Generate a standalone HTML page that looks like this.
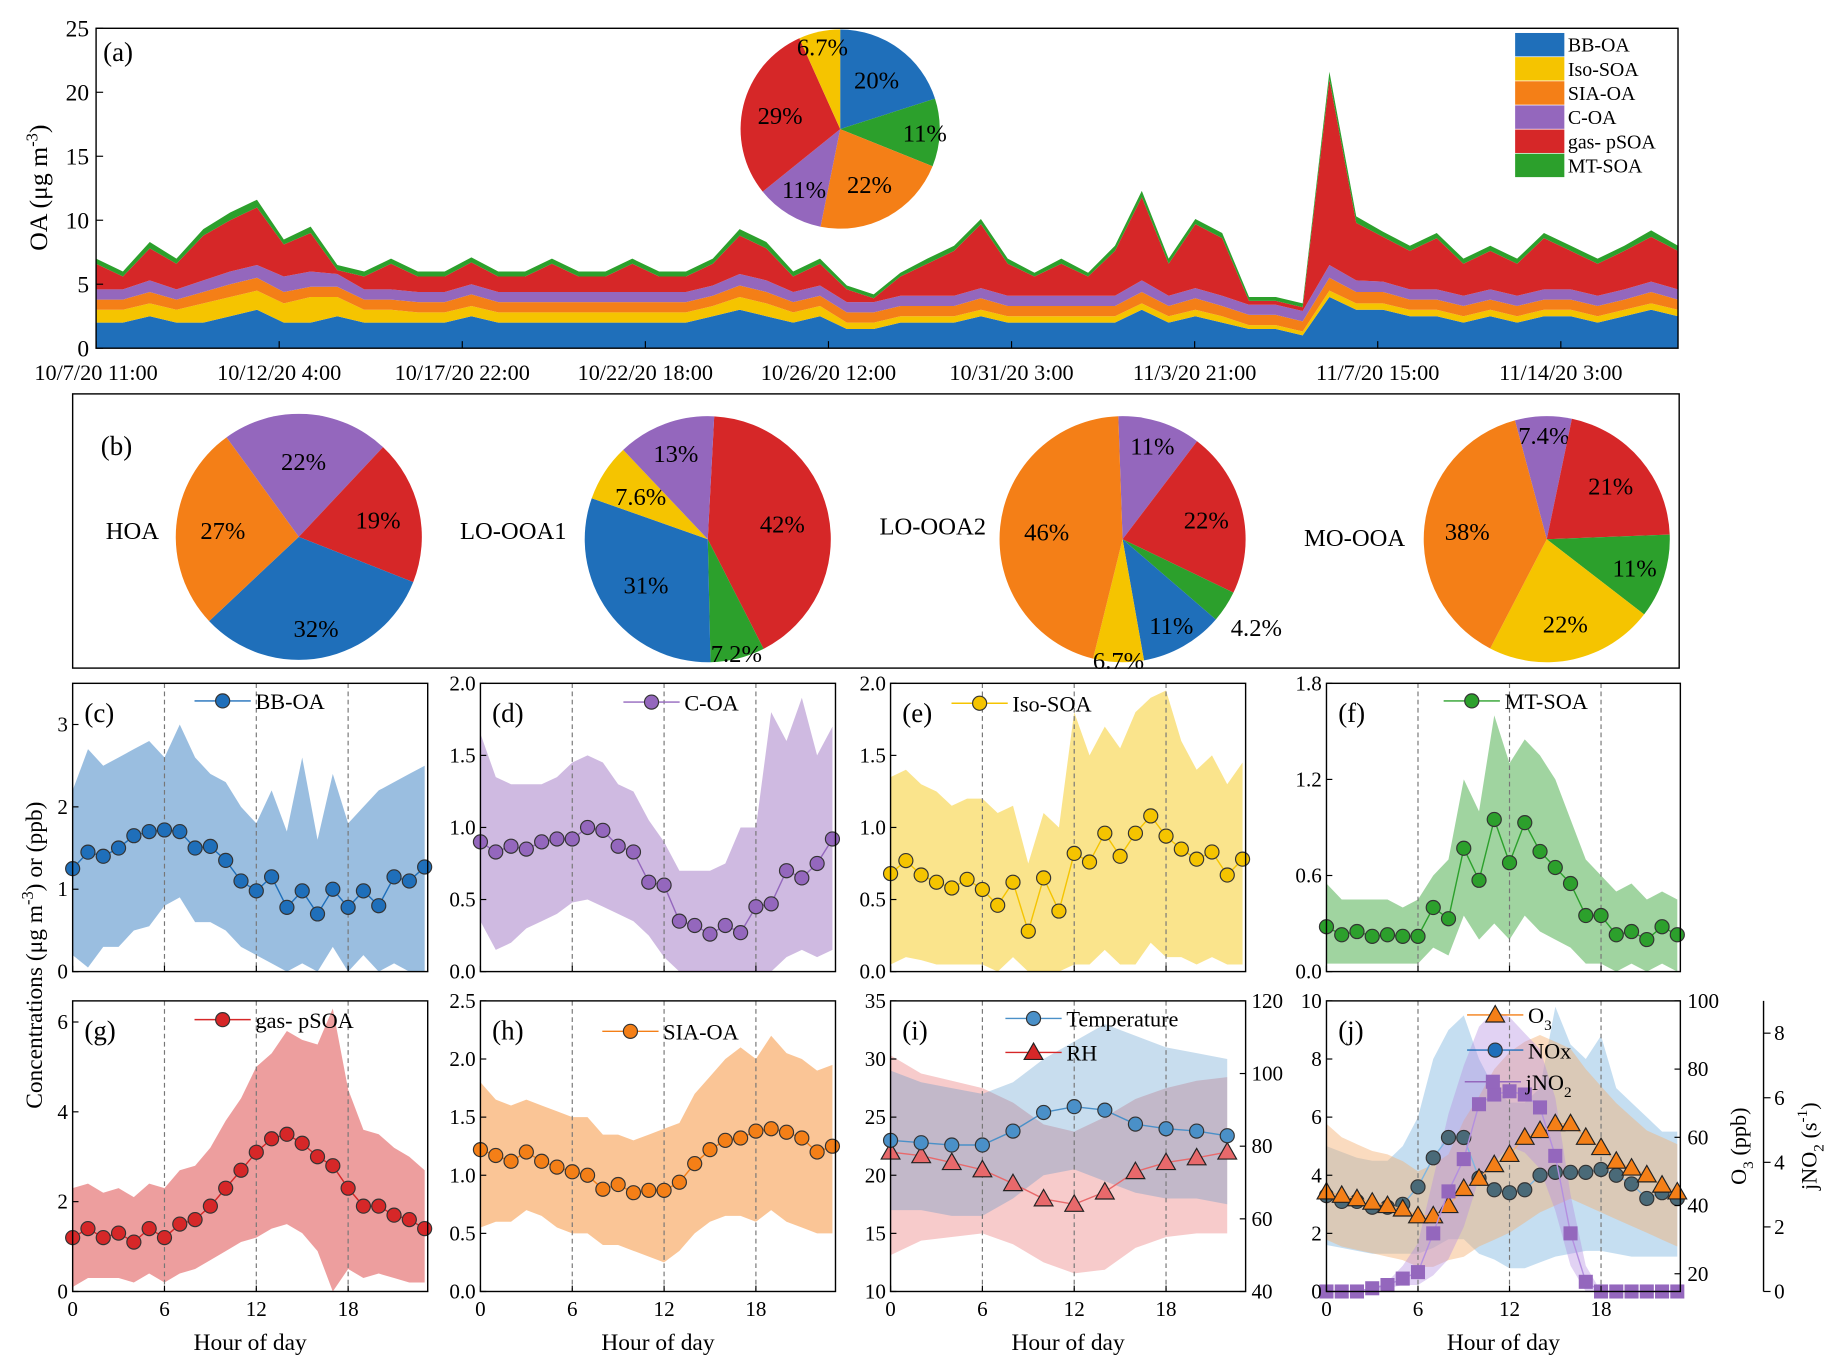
<!DOCTYPE html>
<html><head><meta charset="utf-8">
<style>
html,body{margin:0;padding:0;background:#fff;}
svg{display:block;font-family:"Liberation Serif",serif;}
</style></head>
<body>
<svg id="fig" xmlns="http://www.w3.org/2000/svg" width="1828" height="1369" viewBox="0 0 1560 1168"></svg>
<script>
// ---------- Panel (a) time series data ----------
const tsLabels = ["10/7/20 11:00","10/12/20 4:00","10/17/20 22:00","10/22/20 18:00","10/26/20 12:00","10/31/20 3:00","11/3/20 21:00","11/7/20 15:00","11/14/20 3:00"];
const tsBB  = [2,2,2.5,2,2,2.5,3,2,2,2.5, 2,2,2,2,2.5,2,2,2,2,2, 2,2,2,2.5,3,2.5,2,2.5,1.5,1.5, 2,2,2,2.5,2,2,2,2,2,3, 2,2.5,2,1.5,1.5,1,4,3,3,2.5, 2.5,2,2.5,2,2.5,2.5,2,2.5,3,2.5];
const tsISO = [1,1,1,1,1.5,1.5,1.5,1.5,2,1.5, 1,1,0.8,0.8,0.8,0.8,0.8,0.8,0.8,0.8, 0.8,0.8,0.8,0.8,1,1,0.8,0.8,0.5,0.5, 0.5,0.5,0.5,0.5,0.5,0.5,0.5,0.5,0.5,0.5, 0.5,0.5,0.5,0.3,0.3,0.3,0.5,0.5,0.5,0.5, 0.5,0.5,0.5,0.5,0.5,0.5,0.5,0.5,0.5,0.5];
const tsSIA = [0.8,0.8,0.9,0.8,0.9,1,1,0.9,0.8,0.8, 0.8,0.8,0.8,0.8,0.9,0.8,0.8,0.8,0.8,0.8, 0.8,0.8,0.8,0.8,0.9,0.9,0.8,0.8,0.8,0.8, 0.8,0.8,0.8,0.9,0.8,0.8,0.8,0.8,0.8,0.9, 0.8,0.9,0.8,0.8,0.8,0.8,1,0.9,0.9,0.8, 0.8,0.8,0.8,0.8,0.8,0.8,0.8,0.8,0.9,0.8];
const tsCOA = [0.8,0.8,0.9,0.8,0.9,1,1,1.2,1.2,1, 0.8,0.8,0.8,0.8,0.8,0.8,0.8,0.8,0.8,0.8, 0.8,0.8,0.8,0.8,0.9,0.9,0.8,0.8,0.8,0.8, 0.8,0.8,0.8,0.8,0.8,0.8,0.8,0.8,0.8,0.9, 0.8,0.8,0.8,0.8,0.8,0.8,1,0.9,0.8,0.8, 0.8,0.8,0.8,0.8,0.8,0.8,0.8,0.8,0.8,0.8];
const tsGAS = [2,1,2.5,2,3.5,4,4.5,2.5,3,0.3, 1,2,1.2,1.2,1.7,1.2,1.2,2.2,1.2,1.2, 2.2,1.2,1.2,1.7,3,2.5,1.2,1.7,1,0.3, 1.5,2.5,3.5,5,2.5,1.5,2.5,1.5,3.5,6.5, 2.5,5,4.5,0.3,0.3,0.3,14.5,4.5,3.5,3, 4,2.5,3,2.5,4,3,2.5,3,3.5,3];
const tsMT  = [0.4,0.4,0.5,0.4,0.5,0.6,0.6,0.4,0.5,0.4, 0.4,0.4,0.4,0.4,0.4,0.4,0.4,0.4,0.4,0.4, 0.4,0.4,0.4,0.4,0.5,0.5,0.4,0.4,0.3,0.3, 0.3,0.4,0.4,0.4,0.4,0.3,0.4,0.3,0.4,0.5, 0.4,0.4,0.4,0.3,0.3,0.3,0.6,0.5,0.4,0.4, 0.4,0.4,0.4,0.4,0.4,0.4,0.4,0.4,0.5,0.4];
// ---------- Pies ----------
const pieAVals = [20,11,22,11,29,6.7];
const pieHOA = [22,19,32,27];
const pieLO1 = [42,7.2,31,7.6,13];
const pieLO2 = [11,22,4.2,11,6.7,46];
const pieMO  = [7.4,21,11,22,38];
// ---------- Diurnal ----------
const hours = [0,1,2,3,4,5,6,7,8,9,10,11,12,13,14,15,16,17,18,19,20,21,22,23];
const hours2 = [0,2,4,6,8,10,12,14,16,18,20,22];
const bbMean=[1.25,1.45,1.4,1.5,1.65,1.7,1.72,1.7,1.5,1.52,1.35,1.1,0.98,1.15,0.78,0.98,0.7,1.0,0.78,0.98,0.8,1.15,1.1,1.27];
const bbUp=[2.2,2.7,2.5,2.6,2.7,2.8,2.6,3.0,2.6,2.4,2.3,2.0,1.8,2.2,1.7,2.6,1.6,2.4,1.8,2.0,2.2,2.3,2.4,2.5];
const bbLo=[0.2,0.05,0.3,0.3,0.5,0.55,0.8,0.9,0.6,0.6,0.5,0.3,0.2,0.1,0,0.1,0,0.3,0,0.2,0,0.1,0,0];
const coaMean=[0.9,0.83,0.87,0.85,0.9,0.92,0.92,1.0,0.98,0.87,0.83,0.62,0.6,0.35,0.32,0.26,0.32,0.27,0.45,0.47,0.7,0.65,0.75,0.92];
const coaUp=[1.65,1.35,1.3,1.3,1.3,1.35,1.45,1.5,1.45,1.3,1.25,1.05,0.9,0.7,0.7,0.7,0.75,1.0,1.0,1.8,1.6,1.9,1.5,1.7];
const coaLo=[0.35,0.15,0.2,0.3,0.35,0.4,0.48,0.5,0.45,0.4,0.35,0.25,0.1,0,0,0,0,0,0,0,0.1,0.15,0.1,0.15];
const isoMean=[0.68,0.77,0.67,0.62,0.58,0.64,0.57,0.46,0.62,0.28,0.65,0.42,0.82,0.76,0.96,0.8,0.96,1.08,0.94,0.85,0.78,0.83,0.67,0.78];
const isoUp=[1.35,1.4,1.3,1.25,1.15,1.2,1.2,1.1,1.15,0.75,1.1,1.0,1.8,1.5,1.7,1.55,1.8,1.9,1.95,1.6,1.4,1.5,1.3,1.45];
const isoLo=[0.05,0.1,0.08,0.05,0.05,0.05,0.05,0,0.1,0,0,0,0.05,0.05,0.15,0.05,0.05,0.2,0.1,0.1,0.05,0.1,0.05,0.05];
const mtMean=[0.28,0.23,0.25,0.22,0.23,0.22,0.22,0.4,0.33,0.77,0.57,0.95,0.68,0.93,0.75,0.65,0.55,0.35,0.35,0.23,0.25,0.2,0.28,0.23];
const mtUp=[0.55,0.45,0.45,0.45,0.45,0.4,0.45,0.6,0.7,1.2,1.0,1.6,1.3,1.45,1.35,1.2,0.95,0.7,0.6,0.5,0.55,0.45,0.5,0.45];
const mtLo=[0.05,0.05,0.05,0.05,0.05,0.05,0.05,0.15,0.1,0.35,0.2,0.3,0.2,0.35,0.25,0.2,0.15,0.05,0.05,0,0.05,0,0.05,0];
const gasMean=[1.2,1.4,1.2,1.3,1.1,1.4,1.2,1.5,1.6,1.9,2.3,2.7,3.1,3.4,3.5,3.3,3.0,2.8,2.3,1.9,1.9,1.7,1.6,1.4];
const gasUp=[2.3,2.4,2.2,2.3,2.1,2.4,2.3,2.7,2.8,3.2,3.8,4.3,5.0,5.3,5.8,5.6,5.5,6.3,4.5,3.6,3.5,3.2,3.0,2.7];
const gasLo=[0.1,0.3,0.3,0.3,0.2,0.4,0.2,0.4,0.5,0.7,0.9,1.1,1.2,1.4,1.5,1.3,0.9,0,0.5,0.3,0.4,0.3,0.2,0.2];
const siaMean=[1.22,1.17,1.12,1.2,1.12,1.07,1.03,1.0,0.88,0.92,0.85,0.87,0.87,0.94,1.1,1.22,1.3,1.32,1.38,1.4,1.37,1.32,1.2,1.25];
const siaUp=[1.8,1.65,1.6,1.65,1.6,1.55,1.5,1.5,1.35,1.35,1.3,1.35,1.4,1.45,1.7,1.85,2.0,2.1,2.0,2.2,2.05,2.0,1.9,1.95];
const siaLo=[0.55,0.6,0.6,0.7,0.65,0.55,0.5,0.5,0.4,0.4,0.35,0.3,0.25,0.35,0.5,0.6,0.65,0.65,0.6,0.7,0.6,0.55,0.5,0.5];
const tMean=[23,22.8,22.6,22.6,23.8,25.4,25.9,25.6,24.4,24,23.8,23.4];
const tUp=[29,28,27.5,27,28,30,31.5,33,32,31,30.5,30];
const tLo=[17,17,16.5,16.5,18,20,20.5,19.5,18.5,18,18,17.5];
const rhMean=[78.4,77.4,75.5,73.5,69.7,65.5,64,67.4,73,75.5,76.8,78.4];
const rhUp=[105,100,98,96,92,86,84,88,93,96,98,99];
const rhLo=[50,54,55,56,53,48,45,46,52,55,56,56];
const o3Mean=[44,43,42,41,40,39,37,37,40,45,48,52,55,60,62,64,64,60,57,53,51,49,46,44];
const o3Up=[64,60,58,56,55,53,50,52,55,65,72,80,85,88,90,88,86,80,75,70,66,62,60,58];
const o3Lo=[30,28,27,26,25,24,22,22,24,25,28,30,32,35,38,40,42,40,38,36,34,32,30,28];
const noxMean=[3.3,3.1,3.1,2.9,2.9,3.0,3.6,4.6,5.3,5.3,3.9,3.5,3.4,3.5,4.0,4.1,4.1,4.1,4.2,4.0,3.7,3.2,3.4,3.2];
const noxUp=[5,4.8,4.6,4.5,4.5,5,6,8,9,9.5,8,7,6.5,6.5,7,9.8,8.5,8,8.8,7,6.5,6,5.5,5.5];
const noxLo=[1.6,1.5,1.4,1.3,1.3,1.3,1.3,1.5,1.8,1.8,1.3,1.1,0.8,0.8,1,1.2,1.3,1.4,1.4,1.3,1.2,1.2,1.2,1.2];
const jMean=[0,0,0,0.1,0.2,0.4,0.6,1.8,3.1,4.1,5.8,6.1,6.2,6.1,5.7,4.2,1.8,0.3,0,0,0,0,0,0];
const jUp=[0,0,0,0.1,0.3,0.8,1.5,3.5,5.5,7,8.2,8.7,8.5,8,7.5,6,3,0.8,0,0,0,0,0,0];
const jLo=[0,0,0,0,0.1,0.2,0.2,0.5,1,2,3.5,4,4.5,4.3,3.8,2.5,0.8,0,0,0,0,0,0,0];

const C={bb:"#1f6fba",iso:"#f5c400",sia:"#f47f17",coa:"#9467bd",gas:"#d62728",mt:"#2ca02c"};
const NS="http://www.w3.org/2000/svg";
const svg=document.getElementById('fig');
function mk(tag,attrs,parent,name){
  const e=document.createElementNS(NS,tag);
  for(const k in attrs) e.setAttribute(k,attrs[k]);
  
  
  (parent||svg).appendChild(e);
  return e;
}
function txt(x,y,s,size,anchor,parent,name,extra){
  const a={x:x,y:y,'font-size':size,'text-anchor':anchor||'start',fill:'#000'};
  if(extra) for(const k in extra) a[k]=extra[k];
  const t=mk('text',a,parent,name);
  t.innerHTML=s;
  return t;
}
function grp(name){return mk('g',{},svg,name);}

// ================= Panel (a) =================
(function(){
  const g=grp('panel-a');
  const x0=82,x1=1432,y0=24,y1=297,ymax=25;
  const sy=v=>y1-(v/ymax)*(y1-y0);
  const n=tsBB.length;
  const sx=i=>x0+i*(x1-x0)/(n-1);
  const comps=[[tsBB,C.bb,'bb-oa'],[tsISO,C.iso,'iso-soa'],[tsSIA,C.sia,'sia-oa'],[tsCOA,C.coa,'c-oa'],[tsGAS,C.gas,'gas-psoa'],[tsMT,C.mt,'mt-soa']];
  const cum=new Array(n).fill(0);
  comps.forEach(c=>{
    const lo=cum.slice();
    for(let i=0;i<n;i++) cum[i]+=c[0][i];
    let d='';
    for(let i=0;i<n;i++) d+=(i?'L':'M')+sx(i).toFixed(1)+','+sy(cum[i]).toFixed(1);
    for(let i=n-1;i>=0;i--) d+='L'+sx(i).toFixed(1)+','+sy(lo[i]).toFixed(1);
    mk('path',{d:d+'Z',fill:c[1]},g,'area-'+c[2]);
  });
  mk('rect',{x:x0,y:y0,width:x1-x0,height:y1-y0,fill:'none',stroke:'#000','stroke-width':1.2},g,'plot-frame-a');
  [0,5,10,15,20,25].forEach(v=>{
    mk('line',{x1:x0,x2:x0+6,y1:sy(v),y2:sy(v),stroke:'#000'},g,'y-tick');
    txt(x0-6,sy(v)+7,v,20,'end',g,'y-tick-label');
  });
  tsLabels.forEach((s,i)=>{
    const x=x0+i*(1332-x0)/8;
    mk('line',{x1:x,x2:x,y1:y1,y2:y1-6,stroke:'#000'},g,'x-tick');
    txt(x,324,s,19,'middle',g,'x-tick-label');
  });
  txt(40,160,'OA (μg m<tspan dy="-8" font-size="14">-3</tspan><tspan dy="8">)</tspan>',22,'middle',g,'y-axis-title',{transform:'rotate(-90 40 160)'});
  txt(88,52,'(a)',23,'start',g,'panel-label');
  const leg=[['BB-OA',C.bb],['Iso-SOA',C.iso],['SIA-OA',C.sia],['C-OA',C.coa],['gas- pSOA',C.gas],['MT-SOA',C.mt]];
  leg.forEach((l,i)=>{
    const y=28+i*20.6;
    mk('rect',{x:1293,y:y,width:42,height:20,fill:l[1]},g,'legend-swatch');
    txt(1338,y+16,l[0],17,'start',g,'legend-label');
  });
})();

// ================= Pies =================
function pie(cx,cy,r,vals,cols,start,g,name,labelOpts){
  let a=start;
  const tot=vals.reduce((s,v)=>s+v,0);
  vals.forEach((v,i)=>{
    const da=v/tot*360, a2=a+da;
    const rad=x=>x*Math.PI/180;
    const p1=[cx+r*Math.sin(rad(a)),cy-r*Math.cos(rad(a))];
    const p2=[cx+r*Math.sin(rad(a2)),cy-r*Math.cos(rad(a2))];
    const d=`M${cx},${cy}L${p1[0]},${p1[1]}A${r},${r} 0 ${da>180?1:0} 1 ${p2[0]},${p2[1]}Z`;
    mk('path',{d:d,fill:cols[i]},g,name+'-slice');
    const mid=rad(a+da/2);
    const f=(labelOpts&&labelOpts[i])||0.62;
    txt(cx+f*r*Math.sin(mid),cy-f*r*Math.cos(mid)+8,v+'%',21,'middle',g,name+'-label');
    a=a2;
  });
}
(function(){
  const ga=grp('pie-a');
  pie(717,110,85,pieAVals,[C.bb,C.mt,C.sia,C.coa,C.gas,C.iso],0,ga,'pie-total',[0.62,0.85,0.62,0.7,0.62,0.85]);
  const g=grp('panel-b');
  mk('rect',{x:62,y:336,width:1371,height:234,fill:'none',stroke:'#000','stroke-width':1.2},g,'plot-frame-b');
  txt(86,388,'(b)',23,'start',g,'panel-label');
  pie(255,458,105,pieHOA,[C.coa,C.gas,C.bb,C.sia],-36,g,'pie-hoa',[0.62,0.66,0.75,0.62]);
  txt(113,460,'HOA',21,'middle',g,'pie-title');
  pie(604,460,105,pieLO1,[C.gas,C.mt,C.bb,C.iso,C.coa],3,g,'pie-lo-ooa1',[0.62,0.95,0.62,0.65,0.75]);
  txt(438,460,'LO-OOA1',21,'middle',g,'pie-title');
  pie(958,460,105,pieLO2,[C.coa,C.gas,C.mt,C.bb,C.iso,C.sia],-2,g,'pie-lo-ooa2',[0.8,0.7,1.3,0.8,0.98,0.62]);
  txt(796,456,'LO-OOA2',21,'middle',g,'pie-title');
  pie(1320,460,105,pieMO,[C.coa,C.gas,C.mt,C.iso,C.sia],-15,g,'pie-mo-ooa',[0.85,0.68,0.75,0.7,0.65]);
  txt(1156,466,'MO-OOA',21,'middle',g,'pie-title');
})();

// ================= Diurnal panels =================
function marker(g,type,x,y,col,name){
  if(type==='c') mk('circle',{cx:x,cy:y,r:6,fill:col,stroke:'#333','stroke-width':1},g,name);
  else if(type==='t') mk('path',{d:`M${x},${y-8}L${x+8},${y+6}L${x-8},${y+6}Z`,fill:col,stroke:'#222','stroke-width':1},g,name);
  else mk('rect',{x:x-6,y:y-6,width:12,height:12,fill:col},g,name);
}
function diurnal(o){
  const g=grp('panel-'+o.id);
  const hx=h=>o.x0+h/23.2*(o.x1-o.x0);
  o.series.forEach(s=>{
    const sy=v=>o.y1-(v-s.ymin)/(s.ymax-s.ymin)*(o.y1-o.y0);
    const cl=v=>Math.max(o.y0,Math.min(o.y1,sy(v)));
    let d='';
    s.x.forEach((h,i)=>{d+=(i?'L':'M')+hx(h).toFixed(1)+','+cl(s.up[i]).toFixed(1);});
    for(let i=s.x.length-1;i>=0;i--) d+='L'+hx(s.x[i]).toFixed(1)+','+cl(s.lo[i]).toFixed(1);
    mk('path',{d:d+'Z',fill:s.color,opacity:s.op||0.45},g,'band-'+s.name);
  });
  [6,12,18].forEach(h=>mk('line',{x1:hx(h),x2:hx(h),y1:o.y0,y2:o.y1,stroke:'#777','stroke-dasharray':'4,3'},g,'grid-line'));
  o.series.forEach(s=>{
    const sy=v=>o.y1-(v-s.ymin)/(s.ymax-s.ymin)*(o.y1-o.y0);
    const pts=s.x.map((h,i)=>hx(h).toFixed(1)+','+sy(s.mean[i]).toFixed(1)).join(' ');
    mk('polyline',{points:pts,fill:'none',stroke:s.color,'stroke-width':1.2},g,'line-'+s.name);
    s.x.forEach((h,i)=>marker(g,s.marker,hx(h),sy(s.mean[i]),s.mcolor||s.color,'point-'+s.name));
  });
  mk('rect',{x:o.x0,y:o.y0,width:o.x1-o.x0,height:o.y1-o.y0,fill:'none',stroke:'#000','stroke-width':1.2},g,'plot-frame');
  const sy0=v=>o.y1-(v-o.ymin)/(o.ymax-o.ymin)*(o.y1-o.y0);
  o.yticks.forEach((v,i)=>{
    mk('line',{x1:o.x0,x2:o.x0+5,y1:sy0(v),y2:sy0(v),stroke:'#000'},g,'y-tick');
    txt(o.x0-4,sy0(v)+6,o.ylabels[i],18,'end',g,'y-tick-label');
  });
  [0,6,12,18].forEach(h=>{
    mk('line',{x1:hx(h),x2:hx(h),y1:o.y1,y2:o.y1-5,stroke:'#000'},g,'x-tick');
    if(o.showX) txt(hx(h),o.y1+21,h,18,'middle',g,'x-tick-label');
  });
  if(o.showX) txt((o.x0+o.x1)/2,o.y1+50,'Hour of day',20,'middle',g,'x-axis-title');
  txt(o.x0+10,o.y0+33,'('+o.id+')',23,'start',g,'panel-label');
  (o.legend||[]).forEach(l=>{
    mk('line',{x1:l.x,x2:l.x+48,y1:l.y,y2:l.y,stroke:l.color,'stroke-width':1.2},g,'legend-line');
    marker(g,l.marker,l.x+24,l.y,l.mcolor||l.color,'legend-marker');
    txt(l.x+52,l.y+7,l.label,19,'start',g,'legend-label');
  });
  return {g:g,hx:hx};
}
const R1={y0:583,y1:829}, R2={y0:854,y1:1102};
const fmt1=a=>a.map(v=>v.toFixed(1));
diurnal({id:'c',x0:62,x1:365,y0:R1.y0,y1:R1.y1,ymin:0,ymax:3.5,yticks:[0,1,2,3],ylabels:['0','1','2','3'],
  series:[{name:'bb-oa',x:hours,mean:bbMean,up:bbUp,lo:bbLo,ymin:0,ymax:3.5,color:C.bb,marker:'c'}],
  legend:[{x:166,y:598,label:'BB-OA',color:C.bb,marker:'c'}]});
diurnal({id:'d',x0:410,x1:713,y0:R1.y0,y1:R1.y1,ymin:0,ymax:2,yticks:[0,0.5,1,1.5,2],ylabels:fmt1([0,0.5,1,1.5,2]),
  series:[{name:'c-oa',x:hours,mean:coaMean,up:coaUp,lo:coaLo,ymin:0,ymax:2,color:C.coa,marker:'c'}],
  legend:[{x:532,y:599,label:'C-OA',color:C.coa,marker:'c'}]});
diurnal({id:'e',x0:760,x1:1063,y0:R1.y0,y1:R1.y1,ymin:0,ymax:2,yticks:[0,0.5,1,1.5,2],ylabels:fmt1([0,0.5,1,1.5,2]),
  series:[{name:'iso-soa',x:hours,mean:isoMean,up:isoUp,lo:isoLo,ymin:0,ymax:2,color:C.iso,marker:'c'}],
  legend:[{x:812,y:600,label:'Iso-SOA',color:C.iso,marker:'c'}]});
diurnal({id:'f',x0:1132,x1:1434,y0:R1.y0,y1:R1.y1,ymin:0,ymax:1.8,yticks:[0,0.6,1.2,1.8],ylabels:fmt1([0,0.6,1.2,1.8]),
  series:[{name:'mt-soa',x:hours,mean:mtMean,up:mtUp,lo:mtLo,ymin:0,ymax:1.8,color:C.mt,marker:'c'}],
  legend:[{x:1232,y:598,label:'MT-SOA',color:C.mt,marker:'c'}]});
diurnal({id:'g',x0:62,x1:365,y0:R2.y0,y1:R2.y1,ymin:0,ymax:6.47,yticks:[0,2,4,6],ylabels:['0','2','4','6'],showX:true,
  series:[{name:'gas-psoa',x:hours,mean:gasMean,up:gasUp,lo:gasLo,ymin:0,ymax:6.47,color:C.gas,marker:'c'}],
  legend:[{x:166,y:870,label:'gas- pSOA',color:C.gas,marker:'c'}]});
diurnal({id:'h',x0:410,x1:713,y0:R2.y0,y1:R2.y1,ymin:0,ymax:2.5,yticks:[0,0.5,1,1.5,2,2.5],ylabels:fmt1([0,0.5,1,1.5,2,2.5]),showX:true,
  series:[{name:'sia-oa',x:hours,mean:siaMean,up:siaUp,lo:siaLo,ymin:0,ymax:2.5,color:C.sia,marker:'c'}],
  legend:[{x:514,y:880,label:'SIA-OA',color:C.sia,marker:'c'}]});
(function(){
  const p=diurnal({id:'i',x0:760,x1:1063,y0:R2.y0,y1:R2.y1,ymin:10,ymax:35,yticks:[10,15,20,25,30,35],ylabels:['10','15','20','25','30','35'],showX:true,
    series:[{name:'rh',x:hours2,mean:rhMean,up:rhUp,lo:rhLo,ymin:40,ymax:120,color:'#e8696b',marker:'t',op:0.35},
            {name:'temperature',x:hours2,mean:tMean,up:tUp,lo:tLo,ymin:10,ymax:35,color:'#4a90c8',marker:'c',op:0.3}],
    legend:[{x:858,y:869,label:'Temperature',color:'#4a90c8',marker:'c'},{x:858,y:898,label:'RH',color:C.gas,marker:'t'}]});
  const sy=v=>1102-(v-40)/80*248;
  [40,60,80,100,120].forEach(v=>{
    mk('line',{x1:1063,x2:1058,y1:sy(v),y2:sy(v),stroke:'#000'},p.g,'right-y-tick');
    txt(1068,sy(v)+6,v,18,'start',p.g,'right-y-tick-label');
  });
})();
(function(){
  const O3min=14.8,O3max=100;
  const p=diurnal({id:'j',x0:1132,x1:1434,y0:R2.y0,y1:R2.y1,ymin:0,ymax:10,yticks:[0,2,4,6,8,10],ylabels:['0','2','4','6','8','10'],showX:true,
    series:[{name:'nox',x:hours,mean:noxMean,up:noxUp,lo:noxLo,ymin:0,ymax:10,color:'#7fb6e0',marker:'c',mcolor:'#4a6a78',op:0.45},
            {name:'o3',x:hours,mean:o3Mean,up:o3Up,lo:o3Lo,ymin:O3min,ymax:O3max,color:'#f5b070',marker:'t',mcolor:'#f47f17',op:0.45},
            {name:'jno2',x:hours,mean:jMean,up:jUp,lo:jLo,ymin:0,ymax:9,color:'#b48fe0',marker:'s',mcolor:'#9467bd',op:0.4}],
    legend:[{x:1252,y:866,label:'O<tspan dy="6" font-size="13">3</tspan>',color:C.sia,marker:'t'},
            {x:1252,y:896,label:'NOx',color:C.bb,marker:'c'},
            {x:1250,y:923,label:'jNO<tspan dy="6" font-size="13">2</tspan>',color:C.coa,marker:'s'}]});
  const sy=v=>1102-(v-O3min)/(O3max-O3min)*248;
  [20,40,60,80,100].forEach(v=>{
    mk('line',{x1:1434,x2:1429,y1:sy(v),y2:sy(v),stroke:'#000'},p.g,'o3-y-tick');
    txt(1440,sy(v)+6,v,18,'start',p.g,'o3-y-tick-label');
  });
  txt(1490,978,'O<tspan dy="6" font-size="13">3</tspan><tspan dy="-6"> (ppb)</tspan>',19,'middle',p.g,'o3-axis-title',{transform:'rotate(-90 1490 978)'});
  mk('line',{x1:1505,x2:1505,y1:854,y2:1102,stroke:'#000','stroke-width':1.2},p.g,'jno2-axis-line');
  const sj=v=>1102-v/9*248;
  [0,2,4,6,8].forEach(v=>{
    mk('line',{x1:1505,x2:1511,y1:sj(v),y2:sj(v),stroke:'#000'},p.g,'jno2-y-tick');
    txt(1514,sj(v)+6,v,18,'start',p.g,'jno2-y-tick-label');
  });
  txt(1550,978,'jNO<tspan dy="6" font-size="13">2</tspan><tspan dy="-6"> (s</tspan><tspan dy="-8" font-size="13">-1</tspan><tspan dy="8">)</tspan>',19,'middle',p.g,'jno2-axis-title',{transform:'rotate(-90 1550 978)'});
})();
txt(36,815,'Concentrations (μg m<tspan dy="-8" font-size="14">-3</tspan><tspan dy="8">) or (ppb)</tspan>',20,'middle',svg,'shared-y-axis-title',{transform:'rotate(-90 36 815)'});
</script>
</body></html>
